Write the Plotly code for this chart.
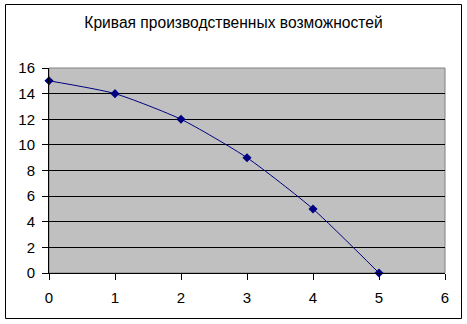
import plotly.graph_objects as go

x_vals = [0, 1, 2, 3, 4, 5]
y_vals = [15, 14, 12, 9, 5, 0]
title_text = "Кривая производственных возможностей"

W, H = 467, 324
L, R, T, B = 49, 22, 68, 51
pw, ph = W - L - R, H - T - B

def px_x(p):
    return (p - L) / pw

def px_y(p):
    return (H - B - p) / ph

fig = go.Figure()
fig.add_trace(go.Scatter(
    x=x_vals, y=y_vals, mode="lines+markers",
    line=dict(color="#000080", width=1, shape="spline", smoothing=0.6),
    marker=dict(symbol="diamond", size=7, color="#000080"),
    showlegend=False, cliponaxis=False,
))

fig.update_layout(
    width=W, height=H,
    margin=dict(l=L, r=R, t=T, b=B),
    paper_bgcolor="white",
    plot_bgcolor="#C0C0C0",
    font=dict(family="Liberation Sans, Arial", size=15, color="black"),
    title=dict(text=title_text, x=0.5, xanchor="center", y=1 - 23 / H, yanchor="middle",
               font=dict(size=15.6)),
    xaxis=dict(range=[0, 6], tickvals=[0, 1, 2, 3, 4, 5, 6], showgrid=False, zeroline=False,
               showline=True, linecolor="black", linewidth=1, ticks="outside", ticklen=6,
               tickcolor="black", ticklabelstandoff=5),
    yaxis=dict(range=[0, 16], tickvals=list(range(0, 17, 2)), showgrid=True, gridcolor="black",
               gridwidth=1, zeroline=False, showline=True, linecolor="black", linewidth=1,
               ticks="outside", ticklen=6, tickcolor="black", ticklabelstandoff=4),
    shapes=[
        dict(type="rect", xref="paper", yref="paper", x0=0, x1=1, y0=0, y1=1,
             line=dict(color="#808080", width=1), layer="below"),
        dict(type="rect", xref="paper", yref="paper",
             x0=px_x(5.5), x1=px_x(461.5), y0=px_y(318.5), y1=px_y(4.5),
             line=dict(color="black", width=1)),
    ],
)

fig.write_html("out.html")
